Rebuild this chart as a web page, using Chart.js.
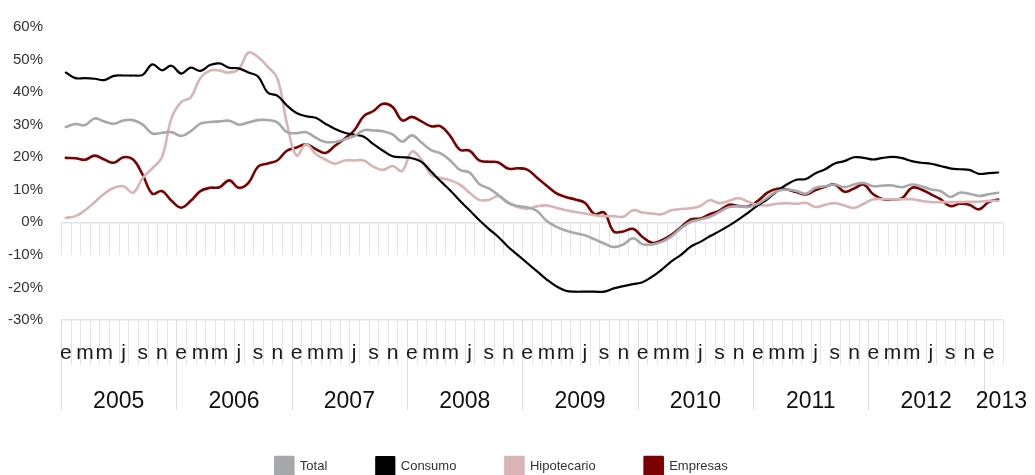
<!DOCTYPE html>
<html>
<head>
<meta charset="utf-8">
<script src="https://cdn.jsdelivr.net/npm/chart.js@4"></script>
<style>
  html, body { margin: 0; padding: 0; background: #fff; }
  #wrap { width: 1035px; height: 475px; }
</style>
</head>
<body>
<div id="wrap"><canvas id="myChart" width="1035" height="475"></canvas></div>
<script>
// month letters used on the axis, year labels below them
let monthLetters = ['e', 'f', 'm', 'a', 'm', 'j', 'j', 'a', 's', 'o', 'n', 'd']
let years = [2005, 2006, 2007, 2008, 2009, 2010, 2011, 2012, 2013]
let yTicks = [-30, -20, -10, 0, 10, 20, 30, 40, 50, 60]

// monthly categories, Jan 2005 .. Feb 2013
let categories = []
years.forEach((yr) => {
  monthLetters.forEach((m, mi) => {
    if (yr < 2013 || mi < 2) categories.push(m + ' ' + yr)
  })
})

// growth rates (%)
let total = [
  29.3, 30.2, 29.9, 31.9, 31.0, 30.3, 31.3, 31.4, 30.0, 27.3, 27.5, 27.7,
  26.5, 28.0, 30.3, 30.8, 31.0, 31.2, 30.0, 30.7, 31.4, 31.4, 30.7, 27.7,
  27.4, 27.7, 26.0, 24.7, 24.7, 25.5, 26.5, 28.3, 28.2, 28.0, 27.0, 24.8,
  26.7, 24.5, 22.2, 21.2, 19.0, 16.1, 15.3, 11.8, 10.4, 8.4, 6.0, 5.0,
  4.6, 3.5, 0.5, -1.3, -2.5, -3.3, -4.0, -5.2, -6.5, -7.6, -6.8, -4.9,
  -6.7, -6.8, -6.0, -4.3, -1.8, 0.1, 0.9, 1.7, 3.2, 4.7, 4.9, 4.7,
  5.7, 7.6, 9.6, 10.1, 9.6, 8.8, 10.6, 11.1, 11.6, 10.8, 11.6, 12.1,
  11.1, 11.3, 11.3, 10.8, 11.6, 11.1, 10.1, 9.6, 7.8, 9.1, 8.8, 8.1,
  8.6, 9.1
]
let consumo = [
  46.0, 44.3, 44.3, 44.1, 43.7, 45.0, 45.1, 45.1, 45.3, 48.5, 46.7, 48.1,
  45.7, 47.5, 46.5, 48.3, 48.8, 47.5, 47.3, 46.0, 44.8, 39.9, 38.9, 35.9,
  33.6, 32.6, 32.1, 30.3, 28.7, 27.5, 26.9, 26.3, 24.0, 22.0, 20.3, 20.0,
  19.7, 18.6, 15.6, 12.6, 9.8, 6.6, 3.7, 0.7, -2.0, -4.5, -7.5, -10.0,
  -12.5, -15.0, -17.5, -19.6, -21.0, -21.3, -21.3, -21.3, -21.3, -20.3, -19.6, -19.0,
  -18.4, -16.7, -14.5, -12.0, -10.0, -7.5, -6.0, -4.3, -2.7, -1.0, 0.9, 3.0,
  5.2, 7.1, 9.6, 11.6, 13.1, 13.3, 15.1, 16.3, 18.1, 18.8, 20.0, 19.8,
  19.3, 19.8, 20.1, 19.7, 18.8, 18.3, 18.0, 17.3, 16.6, 16.3, 16.1, 14.9,
  15.1, 15.3
]
let hipotecario = [
  1.4, 1.9, 3.7, 6.2, 8.8, 10.6, 11.1, 9.1, 13.6, 16.6, 20.0, 32.0,
  36.9, 38.4, 44.3, 46.6, 46.6, 46.0, 47.1, 52.1, 50.8, 47.8, 44.3, 30.5,
  20.5, 24.0, 21.0, 19.3, 18.0, 19.0, 19.0, 19.0, 17.1, 16.1, 17.3, 15.8,
  21.7, 19.3, 14.6, 13.6, 12.9, 11.6, 9.1, 6.9, 6.9, 8.1, 6.2, 4.7,
  4.2, 4.9, 5.2, 4.5, 3.7, 3.2, 2.7, 2.2, 1.9, 1.9, 1.7, 3.7,
  3.0, 2.7, 2.5, 3.7, 4.1, 4.3, 5.0, 6.8, 5.9, 6.6, 7.4, 6.3,
  5.3, 5.2, 5.7, 5.9, 5.7, 6.0, 4.7, 5.4, 5.9, 5.2, 4.4, 5.7,
  7.1, 7.1, 7.1, 7.1, 7.1, 6.6, 6.2, 6.2, 6.2, 6.2, 6.3, 6.3,
  6.6, 6.6
]
let empresas = [
  19.8, 19.7, 19.2, 20.5, 19.3, 18.3, 20.0, 19.3, 14.6, 8.8, 9.6, 6.6,
  4.5, 6.6, 9.6, 10.6, 10.8, 12.9, 10.6, 12.1, 17.1, 18.1, 19.0, 22.0,
  23.0, 24.0, 22.5, 21.3, 23.5, 25.7, 28.2, 32.6, 34.2, 36.4, 35.4, 31.3,
  32.4, 31.0, 29.5, 29.5, 26.5, 22.3, 22.0, 19.0, 18.6, 18.4, 16.5, 16.6,
  16.2, 13.8, 11.3, 9.0, 7.8, 7.0, 6.0, 2.5, 3.0, -2.8, -2.8, -2.0,
  -4.5, -6.3, -5.5, -3.8, -1.5, 0.9, 1.2, 2.5, 3.6, 5.4, 5.0, 4.9,
  6.6, 9.1, 10.3, 10.1, 9.3, 8.6, 9.9, 10.9, 11.6, 9.4, 10.4, 11.6,
  8.6, 7.1, 7.1, 7.4, 10.6, 10.1, 8.6, 7.1, 5.0, 5.7, 5.4, 4.0,
  6.2, 7.0
]

let fontFamily = '"Liberation Sans", Arial, Helvetica, sans-serif'
let lineGrey = '#e4e4e4'

// light tick lines, year separators and year labels
let axisDecor = {
  id: 'axisDecor',
  beforeDraw(chart) {
    let x = chart.scales.x
    let y = chart.scales.y
    let ctx = chart.ctx
    let step = x.getPixelForValue(1) - x.getPixelForValue(0)
    let start = x.getPixelForValue(0) - step / 2
    let y0 = y.getPixelForValue(0)
    let y10 = y.getPixelForValue(-10)
    let yb = y.getPixelForValue(-30)
    ctx.save()
    ctx.lineWidth = 1
    for (let k = 0; k <= categories.length; k++) {
      let bx = Math.round(start + k * step) + 0.5
      ctx.strokeStyle = lineGrey
      ctx.beginPath()
      ctx.moveTo(bx, y0)
      ctx.lineTo(bx, y10)
      ctx.stroke()
      let yearEdge = k % 12 === 0 && k < categories.length
      ctx.strokeStyle = yearEdge ? '#dedede' : lineGrey
      ctx.beginPath()
      ctx.moveTo(bx, yb)
      ctx.lineTo(bx, yb + (yearEdge ? 90 : 45))
      ctx.stroke()
    }
    ctx.fillStyle = '#111'
    ctx.font = '23px ' + fontFamily
    ctx.textAlign = 'center'
    ctx.textBaseline = 'alphabetic'
    years.forEach((yr, yi) => {
      let first = yi * 12
      let last = Math.min(first + 11, categories.length - 1)
      let cx = (x.getPixelForValue(first) + x.getPixelForValue(last)) / 2
      if (yr === 2013) cx += 8
      ctx.fillText(String(yr), cx, yb + 88)
    })
    ctx.restore()
  }
}

let myChart = document.getElementById('myChart').getContext('2d')
let growth = new Chart(myChart, {
  type: 'line',
  data: {
    labels: categories,
    datasets: [
      { label: 'Total', data: total, borderColor: '#a7a8ab', backgroundColor: '#a7a8ab', borderWidth: 2.6 },
      { label: 'Consumo', data: consumo, borderColor: '#000000', backgroundColor: '#000000', borderWidth: 2.2 },
      { label: 'Hipotecario', data: hipotecario, borderColor: '#d8b4b4', backgroundColor: '#d8b4b4', borderWidth: 2.6 },
      { label: 'Empresas', data: empresas, borderColor: '#7b0000', backgroundColor: '#7b0000', borderWidth: 2.6 }
    ]
  },
  options: {
    responsive: false,
    animation: false,
    devicePixelRatio: 1,
    layout: { padding: { top: 17, right: 32, bottom: 0, left: 0 } },
    elements: {
      point: { radius: 0, hoverRadius: 0 },
      line: { tension: 0.4, borderCapStyle: 'round', borderJoinStyle: 'round' }
    },
    plugins: {
      tooltip: { enabled: false },
      legend: {
        position: 'bottom',
        maxHeight: 67,
        labels: {
          boxWidth: 18,
          boxHeight: 18,
          padding: 49,
          color: '#333',
          font: { family: fontFamily, size: 13 }
        }
      }
    },
    scales: {
      x: {
        type: 'category',
        offset: true,
        grid: { display: false, drawTicks: false },
        border: { display: false },
        ticks: {
          autoSkip: false,
          maxRotation: 0,
          minRotation: 0,
          padding: 21,
          color: '#1a1a1a',
          font: { family: fontFamily, size: 21 },
          callback: (value, index) => (index % 12) % 2 === 0 ? monthLetters[index % 12] : ''
        },
        afterFit: (scale) => { scale.height = 88 }
      },
      y: {
        min: -30,
        max: 60,
        afterBuildTicks: (scale) => { scale.ticks = yTicks.map((v) => ({ value: v })) },
        grid: {
          drawTicks: false,
          lineWidth: 1.5,
          color: (c) => (c.tick && (c.tick.value === 0 || c.tick.value === -30)) ? '#e3e3e3' : 'rgba(0,0,0,0)'
        },
        border: { display: false },
        ticks: {
          padding: 18,
          color: '#333',
          font: { family: fontFamily, size: 15 },
          callback: (v) => v + '%'
        },
        afterFit: (scale) => { scale.width = 61 }
      }
    }
  },
  plugins: [axisDecor]
})
</script>
</body>
</html>
